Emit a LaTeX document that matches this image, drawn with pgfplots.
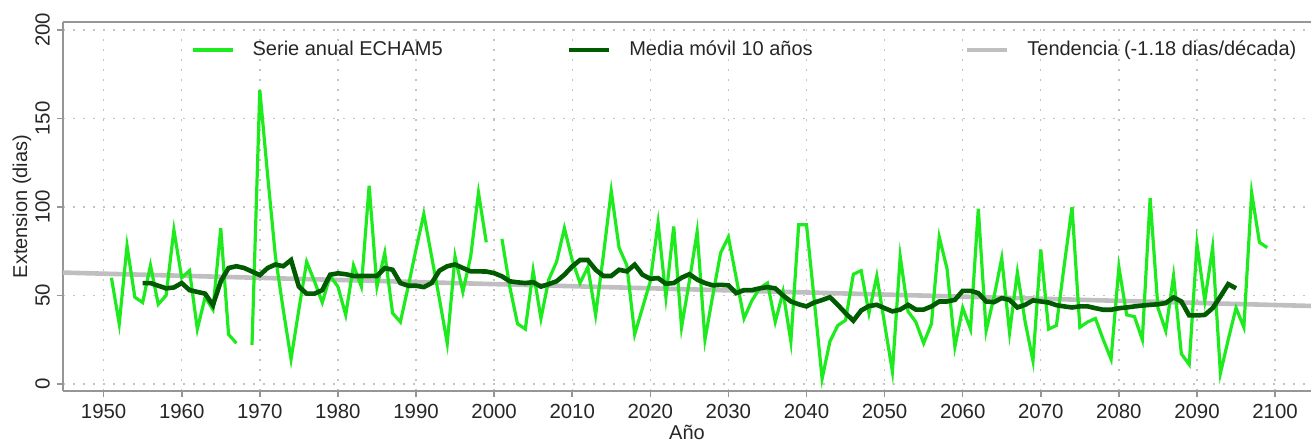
\documentclass[border=0pt]{standalone}
\usepackage{pgfplots}
\pgfplotsset{compat=1.18}
\usepackage{pgfplotstable}
\usepackage{fontspec}
\setmainfont{Liberation Sans}
\definecolor{limeg}{RGB}{30,235,30}
\definecolor{dkgreen}{RGB}{0,90,0}
\definecolor{trendgray}{RGB}{192,190,192}
\definecolor{framegray}{RGB}{150,150,150}
\definecolor{gridgray}{RGB}{195,195,195}

\pgfplotstableread{
year val
1951 60
1952 34
1953 78
1954 49
1955 46
1956 67
1957 45
1958 50
1959 87
1960 60
1961 64
1962 31
1963 49
1964 42
1965 88
1966 28
1967 23
1968 nan
1969 22
1970 166
1971 118
1972 72
1973 42
1974 14
1975 42
1976 69
1977 58
1978 46
1979 61
1980 55
1981 39
1982 67
1983 55
1984 112
1985 55
1986 74
1987 40
1988 35
1989 55
1990 76
1991 96
1992 72
1993 48
1994 23
1995 72
1996 52
1997 72
1998 108
1999 80
2000 nan
2001 82
2002 55
2003 34
2004 31
2005 64
2006 37
2007 59
2008 69
2009 88
2010 70
2011 57
2012 66
2013 39
2014 73
2015 109
2016 77
2017 67
2018 28
2019 43
2020 58
2021 91
2022 49
2023 89
2024 32
2025 58
2026 86
2027 25
2028 50
2029 74
2030 83
2031 60
2032 37
2033 47
2034 54
2035 57
2036 35
2037 52
2038 24
2039 90
2040 90
2041 47
2042 3
2043 24
2044 33
2045 36
2046 62
2047 64
2048 40
2049 61
2050 34
2051 7
2052 72
2053 41
2054 35
2055 23
2056 34
2057 83
2058 65
2059 21
2060 43
2061 31
2062 99
2063 30
2064 49
2065 71
2066 29
2067 63
2068 35
2069 13
2070 76
2071 31
2072 33
2073 67
2074 100
2075 32
2076 35
2077 37
2078 25
2079 14
2080 66
2081 39
2082 38
2083 25
2084 105
2085 43
2086 30
2087 61
2088 17
2089 11
2090 79
2091 47
2092 77
2093 6
2094 25
2095 43
2096 32
2097 108
2098 80
2099 77
}\annual

\pgfplotstableread{
year val
1955 57
1956 57
1957 55.5
1958 54
1959 54.5
1960 57
1961 53
1962 52
1963 51
1964 44.5
1965 58
1966 65.5
1967 66.5
1968 65.5
1969 63.5
1970 61.5
1971 65.5
1972 67.5
1973 66.5
1974 70
1975 55
1976 51
1977 51
1978 53
1979 61.7
1980 62.5
1981 62
1982 61
1983 61
1984 61
1985 61
1986 65.5
1987 64.5
1988 57
1989 55.5
1990 55.5
1991 54.7
1992 57
1993 64
1994 66.5
1995 67.5
1996 65.5
1997 63.6
1998 63.6
1999 63.5
2000 62.6
2001 60.8
2002 58
2003 57.4
2004 57
2005 57.5
2006 55
2007 56.4
2008 58
2009 61.7
2010 66.4
2011 70
2012 70
2013 64.5
2014 61
2015 61
2016 64.5
2017 63.6
2018 67.4
2019 61.7
2020 59.4
2021 59.8
2022 56.6
2023 57
2024 60
2025 62
2026 59
2027 57
2028 55.7
2029 56
2030 55.7
2031 51.3
2032 53
2033 53
2034 54
2035 54.7
2036 54
2037 50
2038 46.6
2039 45
2040 43.8
2041 46
2042 47.4
2043 49
2044 44.7
2045 40
2046 35.7
2047 41.5
2048 44
2049 44.7
2050 42.8
2051 41
2052 42
2053 44.7
2054 42
2055 42
2056 43.8
2057 46.6
2058 46.6
2059 47.5
2060 52.6
2061 52.6
2062 51.3
2063 46.6
2064 46.2
2065 48.5
2066 47.5
2067 43.2
2068 44.7
2069 47.2
2070 46.6
2071 46
2072 44.5
2073 43.8
2074 43.2
2075 43.8
2076 43.8
2077 42.8
2078 41.9
2079 41.9
2080 42.8
2081 43.2
2082 43.8
2083 44.3
2084 44.7
2085 45
2086 45.7
2087 48.9
2088 46.6
2089 38.7
2090 38.7
2091 39
2092 42.8
2093 49.4
2094 56.4
2095 54
}\movavg

\pgfplotstableread{
year val
1940 63.48
2110 43.42
}\trend

\begin{document}
\fontsize{10}{12}\selectfont
\begin{tikzpicture}
\useasboundingbox (-31.5pt,-25pt) rectangle (624pt,195.5pt);
\begin{axis}[
  at={(0,0)}, anchor=south west,
  scale only axis, width=624pt, height=184.5pt,
  xmin=1944.8, xmax=2104.6, ymin=-4, ymax=204.5,
  axis x line*=box, axis y line*=left,
  axis line style={framegray, line width=1pt},
  xtick={1950,1960,...,2100}, ytick={0,50,100,150,200},
  xtick pos=left, ytick pos=left,
  tick align=outside, major tick length=3pt,
  tick style={framegray, line width=0.8pt},
  /pgf/number format/.cd, 1000 sep={}, assume math mode=true, /pgfplots/.cd,
  ticklabel style={font=\fontsize{10.2}{12}\selectfont, text=black!85},
  yticklabel style={rotate=90, anchor=south},
  grid=major,
  major grid style={gridgray, line width=0.7pt, dash pattern=on 1.2pt off 3.8pt},
  xlabel={Año}, ylabel={Extension (dias)},
  label style={font=\fontsize{10}{12}\selectfont, text=black!85},
  xlabel style={at={(axis description cs:0.5,0)}, anchor=center, yshift=-20.5pt},
  ylabel style={at={(axis description cs:0,0.5)}, anchor=center, yshift=20.5pt},
  unbounded coords=jump,
  clip=true,
  legend columns=3,
  legend image code/.code={\draw[#1] (0pt,0pt) -- (20pt,0pt);},
  legend style={at={(0.0978,0.924)}, anchor=west, draw=none, fill=none,
    font=\fontsize{10}{12}\selectfont, text=black!85,
    /tikz/every odd column/.append style={column sep=7pt},
    /tikz/column 2/.append style={column sep=60pt},
    /tikz/column 4/.append style={column sep=74pt}},
]
\addplot[trendgray, line width=2.3pt, forget plot] table[x=year, y=val] {\trend};
\addplot[limeg, line width=1.6pt, forget plot] table[x=year, y=val] {\annual};
\addplot[dkgreen, line width=2.3pt, forget plot] table[x=year, y=val] {\movavg};
\addlegendimage{limeg, line width=1.6pt}
\addlegendentry{Serie anual ECHAM5}
\addlegendimage{dkgreen, line width=2.3pt}
\addlegendentry{Media móvil 10 años}
\addlegendimage{trendgray, line width=2.3pt}
\addlegendentry{Tendencia (-1.18 dias/década)}
\end{axis}
\end{tikzpicture}
\end{document}
